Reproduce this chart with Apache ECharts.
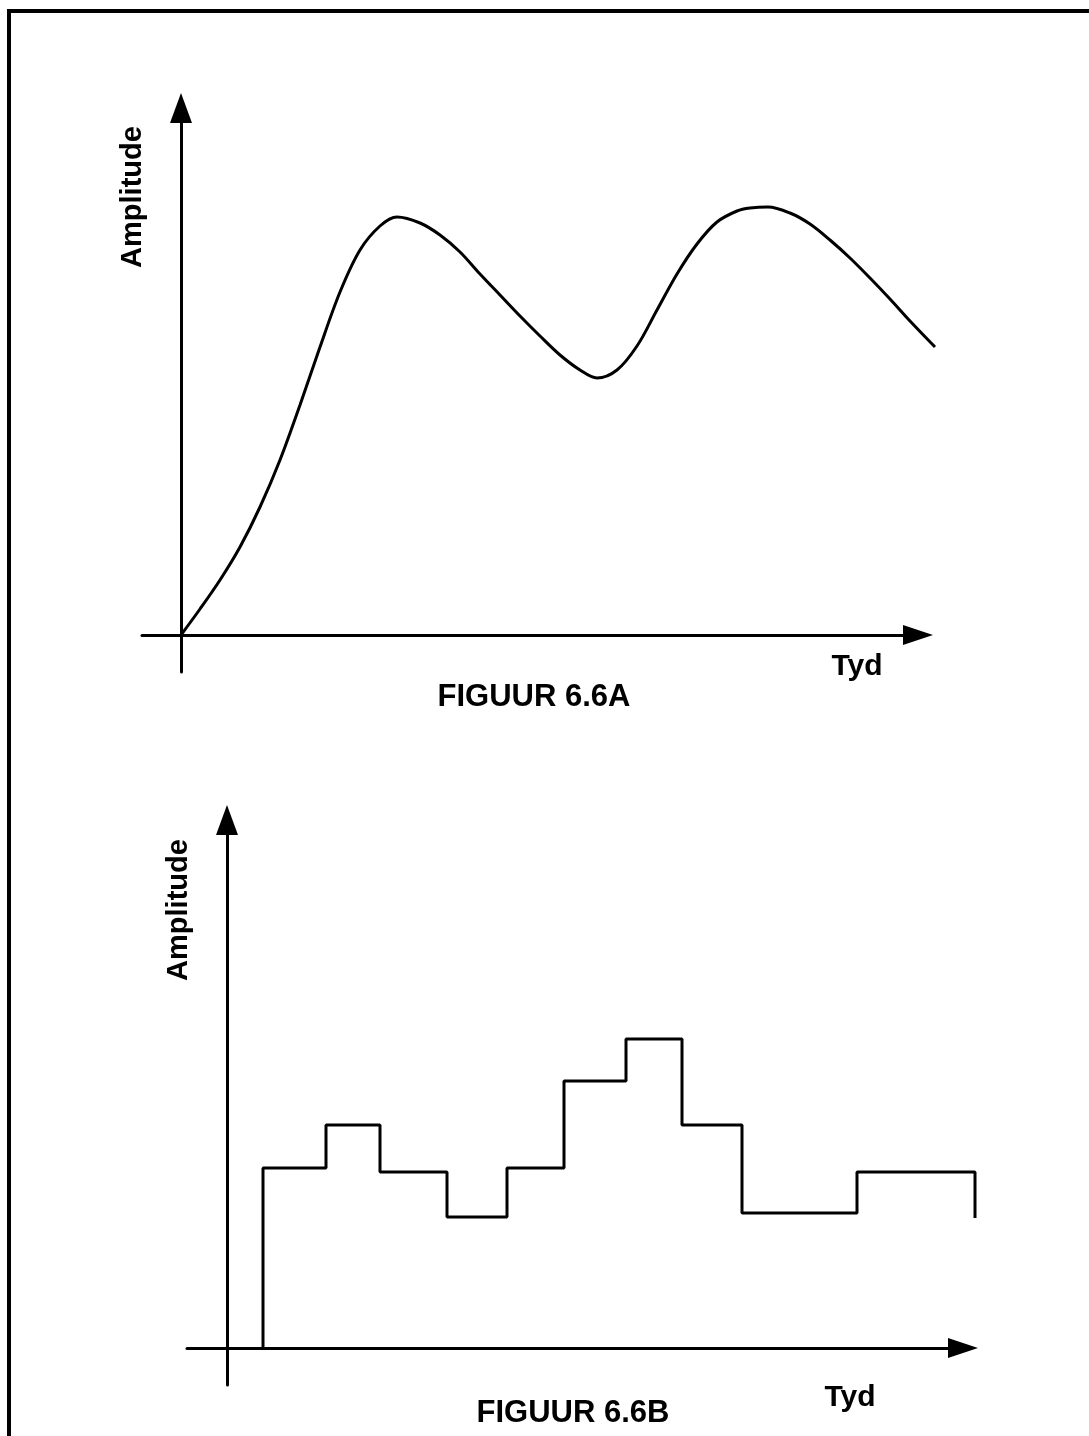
<!DOCTYPE html>
<html>
<head>
<meta charset="utf-8">
<script src="https://cdn.jsdelivr.net/npm/echarts@6/dist/echarts.min.js"></script>
<style>
  html, body { margin: 0; padding: 0; background: #fff; }
  #chart { width: 1089px; height: 1436px; }
</style>
</head>
<body>
<div id="chart"></div>
<script>
// ---- Figure 6.6A : continuous (analogue) signal ----
const topTime = [0, 1.9, 3.9, 5.9, 7.9, 9.9, 11.9, 13.9, 15.9, 17.9, 19.9, 21.6, 23.9, 25.9, 27.9, 29.9, 31.9, 33.9, 35.9, 37.9, 39.9, 41.6, 43.6, 45.6, 47.6, 49.6, 51.6, 53.6, 55.6, 56.9, 58.7, 60.9, 62.9, 64.9, 66.9, 68.9, 70.9, 72.9, 75.4];
const topAmp  = [0, 2.6, 5.5, 8.8, 12.8, 17.5, 23.0, 28.8, 34.3, 38.5, 40.9, 41.8, 41.2, 40.0, 38.3, 36.1, 34.0, 31.9, 29.9, 28.0, 26.5, 25.7, 26.5, 28.9, 32.5, 36.1, 39.1, 41.3, 42.4, 42.7, 42.8, 42.2, 41.1, 39.5, 37.7, 35.7, 33.6, 31.4, 28.8];

// ---- Figure 6.6B : sampled (stepped) signal ----
const stepTimes  = [3.6, 9.9, 15.3, 22.0, 28.0, 33.7, 39.9, 45.5, 51.5, 63.0, 74.8];
const stepLevels = [18.0, 22.3, 17.6, 13.1, 18.0, 26.7, 30.9, 22.3, 13.5, 17.6];
const stepFinal  = 13.0;

// texts
const yAxisLabel = 'Amplitude';
const xAxisLabel = 'Tyd';
const titleA = 'FIGUUR 6.6A';
const titleB = 'FIGUUR 6.6B';

// build data
const topData = topTime.map((t, i) => [t, topAmp[i]]);
const stepData = [[stepTimes[0], 0]];
for (let i = 0; i < stepLevels.length; i++) stepData.push([stepTimes[i + 1], stepLevels[i]]);
stepData.push([stepTimes[stepTimes.length - 1], stepFinal]);

const chart = echarts.init(document.getElementById('chart'), null, { renderer: 'canvas' });
const FONT = "'Liberation Sans', Arial, Helvetica, sans-serif";
const INK = '#000';

function axisBase(isX) {
  return {
    type: 'value',
    axisLine: {
      show: true,
      onZero: true,
      symbol: ['none', 'triangle'],
      symbolSize: isX ? [20, 30] : [22, 30],
      lineStyle: { color: INK, width: 3 }
    },
    axisTick: { show: false },
    axisLabel: { show: false },
    splitLine: { show: false }
  };
}
function hiddenAxis() {
  return { type: 'value', show: false, axisLine: { show: false }, axisTick: { show: false }, axisLabel: { show: false }, splitLine: { show: false } };
}

function textEl(str, x, y, size, rot) {
  return {
    type: 'text',
    x: x, y: y,
    rotation: rot || 0,
    silent: true,
    style: {
      text: str,
      fill: INK,
      font: 'bold ' + size + 'px ' + FONT,
      align: 'center',
      verticalAlign: 'middle'
    }
  };
}

chart.setOption({
  animation: false,
  backgroundColor: '#fff',
  grid: [
    // visible axes
    { left: 142, right: 171, top: 108, bottom: 764 },
    { left: 187, right: 126, top: 820, bottom: 51 },
    // same scale, wider area so the traces may run past the arrow bases
    { left: 142, right: 111, top: 108, bottom: 764 },
    { left: 187, right: 66, top: 820, bottom: 51 }
  ],
  xAxis: [
    Object.assign(axisBase(true), { gridIndex: 0, min: -3.9, max: 73.7 }),
    Object.assign(axisBase(true), { gridIndex: 1, min: -4.0, max: 73.6 }),
    Object.assign(hiddenAxis(), { gridIndex: 2, min: -3.9, max: 79.7 }),
    Object.assign(hiddenAxis(), { gridIndex: 3, min: -4.0, max: 79.6 })
  ],
  yAxis: [
    Object.assign(axisBase(false), { gridIndex: 0, min: -3.7, max: 52.7 }),
    Object.assign(axisBase(false), { gridIndex: 1, min: -3.7, max: 52.8 }),
    Object.assign(hiddenAxis(), { gridIndex: 2, min: -3.7, max: 52.7 }),
    Object.assign(hiddenAxis(), { gridIndex: 3, min: -3.7, max: 52.8 })
  ],
  series: [
    {
      type: 'line', xAxisIndex: 2, yAxisIndex: 2,
      data: topData, smooth: 0.33, symbol: 'none',
      lineStyle: { color: INK, width: 3 }
    },
    {
      type: 'line', xAxisIndex: 3, yAxisIndex: 3,
      data: stepData, step: 'start', symbol: 'none',
      lineStyle: { color: INK, width: 3 }
    }
  ],
  graphic: [
    { type: 'line', silent: true, shape: { x1: 9, y1: 11, x2: 1100, y2: 11 }, style: { stroke: INK, lineWidth: 4 } },
    { type: 'line', silent: true, shape: { x1: 9, y1: 9, x2: 9, y2: 1450 }, style: { stroke: INK, lineWidth: 4 } },
    textEl(yAxisLabel, 133, 197, 29, Math.PI / 2),
    textEl(yAxisLabel, 179, 910, 29, Math.PI / 2),
    textEl(xAxisLabel, 857, 667, 30),
    textEl(xAxisLabel, 850, 1398, 30),
    textEl(titleA, 534, 697, 31),
    textEl(titleB, 573, 1413, 31)
  ]
});
</script>
</body>
</html>
